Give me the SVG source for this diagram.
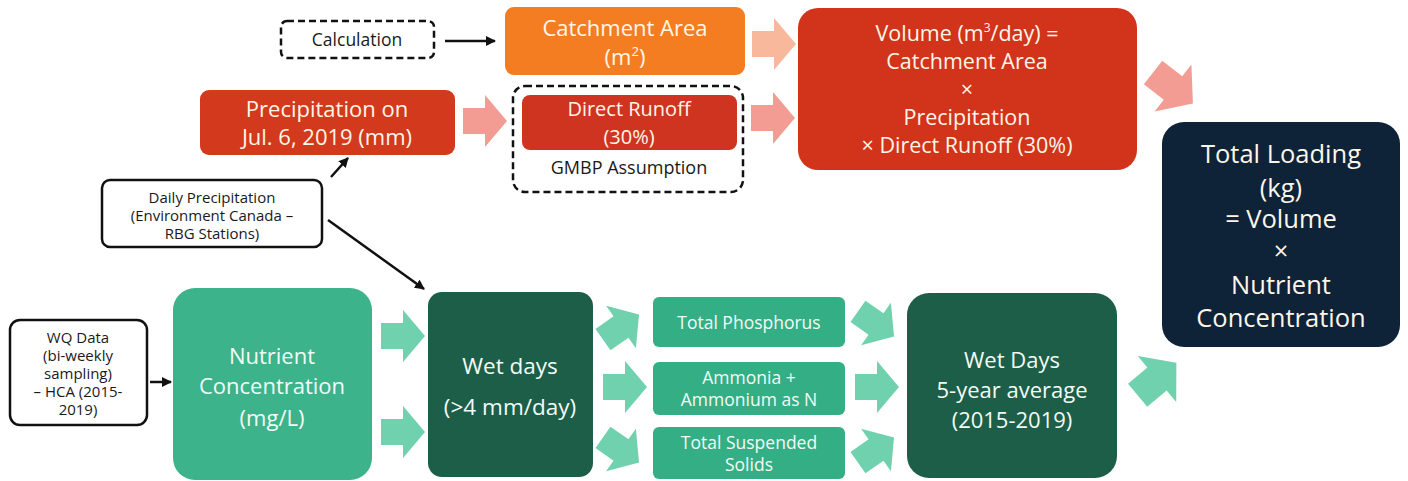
<svg xmlns="http://www.w3.org/2000/svg" width="1408" height="481" viewBox="0 0 1408 481">
<defs>
<style>
text{font-family:"Open Sans","Noto Sans","Liberation Sans",sans-serif;text-anchor:middle}
.lt{fill:#FFF6E8}
.wt{fill:#F2FBF7}
.dk{fill:#1a1a1a}
.dash{fill:#fff;stroke:#111;stroke-width:2.5;stroke-dasharray:7 4}
.solid{fill:#fff;stroke:#111;stroke-width:2.5}
.conn{stroke:#111;stroke-width:2.5;fill:none}
.ga{fill:#6FD1AE}
.pa1{fill:#F8B89B}
.pa2{fill:#F29C93}
</style>
<path id="ba" d="M-22,-13 H0 V-26 L22,0 L0,26 V13 H-22 Z"/>
<marker id="ah" viewBox="0 0 10 10" refX="9" refY="5" markerWidth="4" markerHeight="4" orient="auto">
<path d="M0,0 L10,5 L0,10 Z" fill="#111"/>
</marker>
</defs>
<rect width="1408" height="481" fill="#fff"/>

<g id="connectors">
<line class="conn" x1="445" y1="41" x2="495" y2="41" marker-end="url(#ah)"/>
<line class="conn" x1="331" y1="177" x2="348" y2="158" marker-end="url(#ah)"/>
<line class="conn" x1="328" y1="220" x2="424" y2="289" marker-end="url(#ah)"/>
<line class="conn" x1="150" y1="382" x2="171" y2="382" marker-end="url(#ah)"/>
<use href="#ba" class="pa2" transform="translate(485,121)"/>
<use href="#ba" class="pa1" transform="translate(774,44)"/>
<use href="#ba" class="pa2" transform="translate(773,118)"/>
<use href="#ba" class="pa2" transform="translate(1173,88) rotate(38) scale(1.15)"/>
<use href="#ba" class="ga" transform="translate(403,336)"/>
<use href="#ba" class="ga" transform="translate(403,432)"/>
<use href="#ba" class="ga" transform="translate(621,327) rotate(-35)"/>
<use href="#ba" class="ga" transform="translate(625,387)"/>
<use href="#ba" class="ga" transform="translate(621,450) rotate(35)"/>
<use href="#ba" class="ga" transform="translate(876,324) rotate(35)"/>
<use href="#ba" class="ga" transform="translate(877,387)"/>
<use href="#ba" class="ga" transform="translate(876,450) rotate(-35)"/>
<use href="#ba" class="ga" transform="translate(1157,379) rotate(-40) scale(1.15)"/>
</g>

<g id="calculation">
<rect class="dash" x="281" y="21" width="153" height="37" rx="6"/>
<text class="dk" x="357" y="46" font-size="17.5">Calculation</text>
</g>

<g id="catchment">
<rect x="505" y="7" width="240" height="68" rx="9" fill="#F47D22"/>
<text class="lt" x="625" y="36" font-size="22">Catchment Area</text>
<text class="lt" x="625" y="65" font-size="22">(m<tspan font-size="13" dy="-9">2</tspan><tspan dy="9">)</tspan></text>
</g>

<g id="precipitation">
<rect x="200" y="90" width="255" height="65" rx="9" fill="#D2391D"/>
<text class="lt" x="327" y="117" font-size="22">Precipitation on</text>
<text class="lt" x="327" y="145" font-size="22">Jul. 6, 2019 (mm)</text>
</g>

<g id="gmbp">
<rect class="dash" x="513" y="86" width="230" height="106" rx="12"/>
<rect x="522" y="95" width="215" height="55" rx="8" fill="#CF3420"/>
<text class="lt" x="629" y="116" font-size="20">Direct Runoff</text>
<text class="lt" x="629" y="144" font-size="20">(30%)</text>
<text class="dk" x="629" y="174" font-size="18">GMBP Assumption</text>
</g>

<g id="volume">
<rect x="798" y="8" width="339" height="162" rx="20" fill="#D2331B"/>
<text class="lt" x="967" y="41" font-size="21.5">Volume (m<tspan font-size="12" dy="-9">3</tspan><tspan dy="9">/day) =</tspan></text>
<text class="lt" x="967" y="69" font-size="21.5">Catchment Area</text>
<text class="lt" x="967" y="97" font-size="21.5">×</text>
<text class="lt" x="967" y="125" font-size="21.5">Precipitation</text>
<text class="lt" x="967" y="153" font-size="21.5">× Direct Runoff (30%)</text>
</g>

<g id="daily">
<rect class="solid" x="102" y="180" width="220" height="67" rx="8"/>
<text class="dk" x="212" y="203" font-size="15">Daily Precipitation</text>
<text class="dk" x="212" y="221" font-size="15">(Environment Canada –</text>
<text class="dk" x="212" y="239" font-size="15">RBG Stations)</text>
</g>

<g id="total">
<rect x="1162" y="122" width="238" height="225" rx="22" fill="#0E2238"/>
<text class="lt" x="1281" y="163" font-size="25.5">Total Loading</text>
<text class="lt" x="1281" y="197" font-size="25.5">(kg)</text>
<text class="lt" x="1281" y="228" font-size="25.5">= Volume</text>
<text class="lt" x="1281" y="260" font-size="25.5">×</text>
<text class="lt" x="1281" y="294" font-size="25.5">Nutrient</text>
<text class="lt" x="1281" y="327" font-size="25.5">Concentration</text>
</g>

<g id="wq">
<rect class="solid" x="10" y="320" width="137" height="105" rx="10"/>
<text class="dk" x="78" y="343" font-size="15">WQ Data</text>
<text class="dk" x="78" y="361" font-size="15">(bi-weekly</text>
<text class="dk" x="78" y="379" font-size="15">sampling)</text>
<text class="dk" x="78" y="397" font-size="15">– HCA (2015-</text>
<text class="dk" x="78" y="415" font-size="15">2019)</text>
</g>

<g id="nutrient">
<rect x="173" y="288" width="199" height="192" rx="22" fill="#3CB38B"/>
<text class="wt" x="272" y="364" font-size="22">Nutrient</text>
<text class="wt" x="272" y="394" font-size="22">Concentration</text>
<text class="wt" x="272" y="426" font-size="22">(mg/L)</text>
</g>

<g id="wetdays">
<rect x="428" y="292" width="165" height="185" rx="14" fill="#1D5E48"/>
<text class="wt" x="510" y="374" font-size="22.5">Wet days</text>
<text class="wt" x="510" y="415" font-size="22.5">(&gt;4 mm/day)</text>
</g>

<g id="tp">
<rect x="653" y="297" width="192" height="50" rx="6" fill="#34AE84"/>
<text class="wt" x="749" y="329" font-size="17.5">Total Phosphorus</text>
</g>

<g id="ammonia">
<rect x="653" y="362" width="192" height="53" rx="6" fill="#34AE84"/>
<text class="wt" x="749" y="384" font-size="17.5">Ammonia +</text>
<text class="wt" x="749" y="406" font-size="17.5">Ammonium as N</text>
</g>

<g id="tss">
<rect x="653" y="427" width="192" height="52" rx="6" fill="#34AE84"/>
<text class="wt" x="749" y="449" font-size="17.5">Total Suspended</text>
<text class="wt" x="749" y="471" font-size="17.5">Solids</text>
</g>

<g id="wet5yr">
<rect x="907" y="293" width="210" height="185" rx="22" fill="#1D5E48"/>
<text class="wt" x="1012" y="368" font-size="22">Wet Days</text>
<text class="wt" x="1012" y="398" font-size="22">5-year average</text>
<text class="wt" x="1012" y="428" font-size="22">(2015-2019)</text>
</g>
</svg>
